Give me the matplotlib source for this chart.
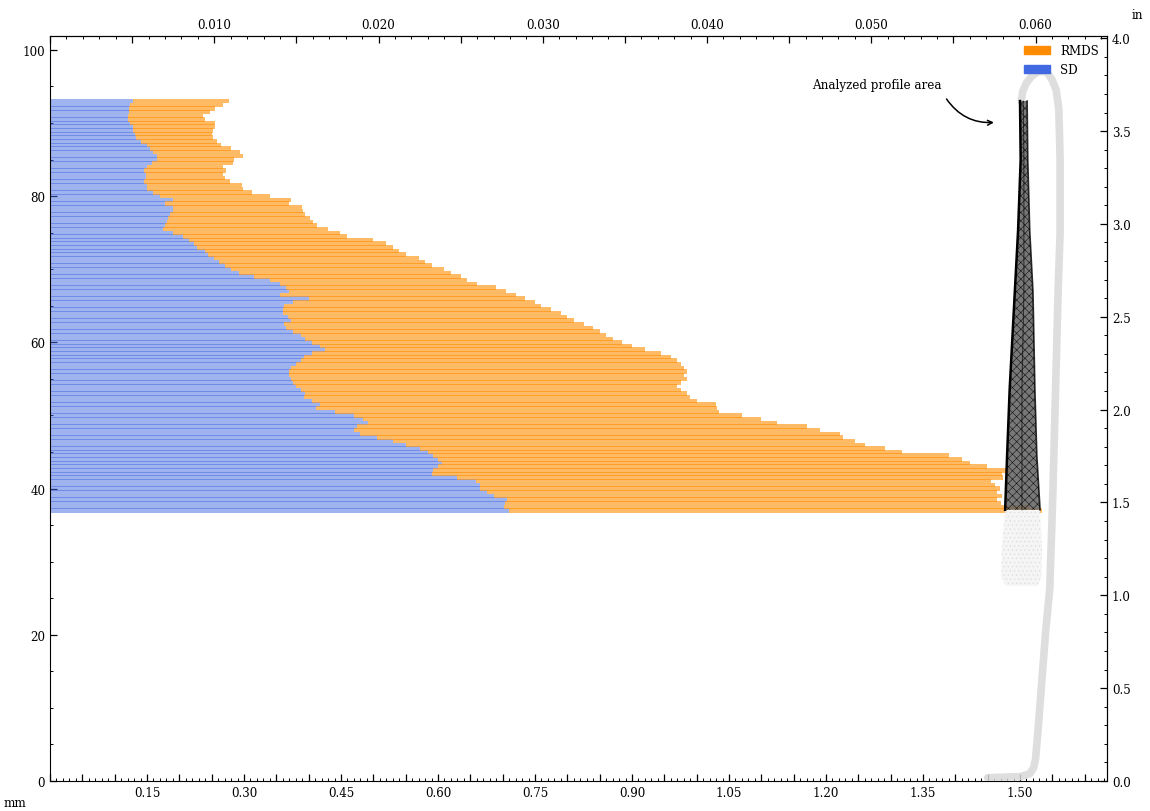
import numpy as np
import matplotlib.pyplot as plt
from matplotlib.patches import Patch
from matplotlib.ticker import MultipleLocator, FuncFormatter

plt.rcParams['font.family'] = 'serif'
plt.rcParams['font.serif'] = ['DejaVu Serif']
plt.rcParams['font.size'] = 8.6
plt.rcParams['hatch.linewidth'] = 0.4

MM_PER_IN = 25.4

# slice heights (mm), top -> bottom, 0.5 mm apart
heights = [93.0 - 0.5 * i for i in range(113)]

sd = [0.128, 0.124, 0.122, 0.122, 0.121, 0.120, 0.124, 0.128, 0.128, 0.131,
      0.133, 0.140, 0.150, 0.155, 0.159, 0.165, 0.166, 0.158, 0.150, 0.145,
      0.148, 0.148, 0.146, 0.150, 0.150, 0.160, 0.170, 0.190, 0.178, 0.190,
      0.190, 0.186, 0.182, 0.181, 0.178, 0.175, 0.190,
      0.205, 0.215, 0.222, 0.228, 0.240, 0.245, 0.254, 0.262, 0.270, 0.280,
      0.292, 0.315, 0.340, 0.355, 0.365, 0.370, 0.355, 0.400, 0.375, 0.362,
      0.360, 0.360, 0.368, 0.372, 0.362, 0.365, 0.375, 0.388, 0.394, 0.405,
      0.418, 0.425, 0.405, 0.392, 0.388, 0.380, 0.372, 0.370, 0.370, 0.372,
      0.375, 0.380, 0.388, 0.395, 0.392, 0.405, 0.418, 0.412, 0.440, 0.470,
      0.484, 0.492, 0.474, 0.470, 0.480, 0.505, 0.530, 0.550, 0.572, 0.585,
      0.593, 0.600, 0.606, 0.600, 0.593, 0.590, 0.630, 0.658, 0.665, 0.665,
      0.675, 0.686, 0.706, 0.704, 0.702, 0.709]

rmds = [0.277, 0.268, 0.255, 0.247, 0.237, 0.240, 0.255, 0.255, 0.252, 0.250,
        0.252, 0.258, 0.265, 0.280, 0.294, 0.298, 0.285, 0.283, 0.268, 0.272,
        0.268, 0.271, 0.278, 0.297, 0.298, 0.312, 0.340, 0.372, 0.370, 0.390,
        0.391, 0.394, 0.402, 0.407, 0.413, 0.430, 0.448,
        0.46, 0.50, 0.52, 0.53, 0.54, 0.55, 0.57, 0.58, 0.59, 0.61,
        0.62, 0.635, 0.645, 0.66, 0.69, 0.705, 0.72, 0.735, 0.75, 0.76,
        0.775, 0.79, 0.80, 0.81, 0.825, 0.84, 0.85, 0.86, 0.87, 0.885,
        0.90, 0.92, 0.945, 0.96, 0.97, 0.975, 0.98, 0.985, 0.98, 0.985,
        0.975, 0.97, 0.975, 0.985, 0.99, 1.00, 1.03, 1.031, 1.035, 1.07,
        1.10, 1.124, 1.17, 1.19, 1.222, 1.226, 1.245, 1.26, 1.291, 1.317,
        1.39, 1.41, 1.422, 1.449, 1.484, 1.472, 1.474, 1.455, 1.462, 1.469,
        1.465, 1.472, 1.464, 1.47, 1.515, 1.534]

# outline of the measured profile (mm)
profile_x = [1.45, 1.50, 1.515, 1.521, 1.524, 1.528, 1.534, 1.540, 1.546,
             1.551, 1.555, 1.559, 1.562, 1.562, 1.560, 1.556, 1.549, 1.543,
             1.536, 1.528, 1.519, 1.510, 1.504, 1.502]
profile_y = [0.45, 0.6, 1.0, 1.8, 3.0, 7.1, 14.0, 20.8, 26.3,
             40.0, 53.6, 67.3, 75.0, 85.0, 91.9, 94.5, 96.0, 96.8,
             97.1, 97.0, 96.5, 95.5, 94.3, 93.0]

# envelope of the analysed area
area_y = [93.0, 85.0, 75.3, 67.0, 53.6, 44.5, 37.1]
area_left = [1.500, 1.501, 1.497, 1.492, 1.484, 1.480, 1.477]
area_mid = [1.505, 1.506, 1.506, 1.506, 1.503, 1.503, 1.503]
area_right = [1.511, 1.512, 1.515, 1.520, 1.523, 1.526, 1.531]

# faint scatter below the analysed area
cloud_y = [37.1, 32.0, 28.0, 26.7]
cloud_left = [1.477, 1.472, 1.471, 1.478]
cloud_right = [1.531, 1.534, 1.533, 1.528]

fig = plt.figure(figsize=(11.5, 8.12), dpi=100)
ax = fig.add_axes([0.0435, 0.0369, 0.9191, 0.9175])

sd_a = np.array(sd)
rmds_a = np.array(rmds)
ax.barh(heights, sd_a, height=0.6, color='royalblue', alpha=0.5, lw=0, zorder=2)
ax.barh(heights, rmds_a - sd_a, left=sd_a, height=0.6, color='darkorange',
        alpha=0.6, lw=0, zorder=2)

ax.plot(profile_x, profile_y, color='0.85', lw=5.5, alpha=0.85,
        solid_capstyle='round', zorder=3)
ax.fill_betweenx(cloud_y, cloud_left, cloud_right, facecolor='0.96',
                 edgecolor='0.86', hatch='....', lw=0, zorder=3)
ax.fill_betweenx(area_y, area_left, area_right, facecolor='0.38',
                 edgecolor='black', hatch='xxxx', alpha=0.85, lw=0, zorder=4)
ax.plot(area_left, area_y, color='black', lw=1.8, zorder=5)
ax.plot(area_mid, area_y, color='black', lw=0.8, alpha=0.6, zorder=5)
ax.plot(area_right, area_y, color='black', lw=1.2, alpha=0.8, zorder=5)

ax.text(1.178, 95.3, 'Analyzed profile area', va='center', ha='left')
ax.annotate('', xy=(1.464, 90.1), xytext=(1.384, 93.6),
            arrowprops=dict(arrowstyle='->', connectionstyle='arc3,rad=0.3',
                            color='black', lw=1.1))

ax.set_xlim(0, 1.6345)
ax.set_ylim(0, 101.9)


def bottom_fmt(v, pos):
    k = round(v / 0.15)
    if k > 0 and abs(k * 0.15 - v) < 1e-6:
        return f"{v:.2f}"
    return ""


def top_fmt(v, pos):
    k = round(v / 0.01)
    if k > 0 and abs(k * 0.01 - v) < 1e-7:
        return f"{v:.3f}"
    return ""


ax.xaxis.set_major_locator(MultipleLocator(0.05))
ax.xaxis.set_minor_locator(MultipleLocator(0.01))
ax.xaxis.set_major_formatter(FuncFormatter(bottom_fmt))
ax.yaxis.set_major_locator(MultipleLocator(20))
ax.yaxis.set_minor_locator(MultipleLocator(5))

top = ax.secondary_xaxis('top', functions=(lambda x: x / MM_PER_IN,
                                           lambda x: x * MM_PER_IN))
top.xaxis.set_major_locator(MultipleLocator(0.005))
top.xaxis.set_minor_locator(MultipleLocator(0.001))
top.xaxis.set_major_formatter(FuncFormatter(top_fmt))

right = ax.secondary_yaxis('right', functions=(lambda y: y / MM_PER_IN,
                                               lambda y: y * MM_PER_IN))
right.yaxis.set_major_locator(MultipleLocator(0.5))
right.yaxis.set_minor_locator(MultipleLocator(0.1))
right.yaxis.set_major_formatter(FuncFormatter(lambda v, p: f"{v:.1f}"))

for a in (ax, top, right):
    a.tick_params(which='major', direction='in', length=5, width=0.9)
    a.tick_params(which='minor', direction='in', length=2.5, width=0.7)
    # empty offset texts sit on the figure edge; drop them
    a.xaxis.offsetText.set_visible(False)
    a.yaxis.offsetText.set_visible(False)
    a.xaxis.label.set_visible(False)
    a.yaxis.label.set_visible(False)

ax.legend(handles=[Patch(color='darkorange', label='RMDS'),
                   Patch(color='royalblue', label='SD')],
          loc='upper right', frameon=False, handlelength=2.2,
          handleheight=0.7, borderaxespad=0.3)

fig.text(0.013, 0.011, 'mm', ha='center', va='center')
fig.text(0.9887, 0.981, 'in', ha='center', va='center')

fig.savefig('out.png', dpi=100)
